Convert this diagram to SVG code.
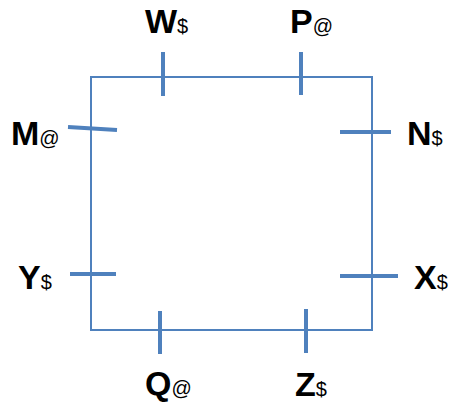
<svg xmlns="http://www.w3.org/2000/svg" width="453" height="406" viewBox="0 0 453 406">
<style>
.frame{fill:none;stroke:#4f81bd;stroke-width:2}
.tick{stroke:#4f81bd;stroke-width:4;stroke-linecap:butt}
.lbl{font-family:"Liberation Sans",Arial,sans-serif;font-weight:bold;font-size:34px;fill:#000}
.sym{font-weight:normal;font-size:20px}
</style>
<rect width="453" height="406" fill="#fff"/>
<g id="connectors">
<rect class="frame" x="91" y="77" width="281" height="253"/>
</g>
<g id="W"><line class="tick" x1="163" y1="52" x2="163" y2="96"/><text class="lbl" x="145" y="33">W<tspan class="sym">$</tspan></text></g>
<g id="P"><line class="tick" x1="301" y1="52" x2="301" y2="95"/><text class="lbl" x="290" y="33">P<tspan class="sym">@</tspan></text></g>
<g id="M"><line class="tick" x1="68" y1="127" x2="117" y2="130"/><text class="lbl" x="11" y="145">M<tspan class="sym">@</tspan></text></g>
<g id="N"><line class="tick" x1="340" y1="132" x2="391" y2="132"/><text class="lbl" x="407" y="145">N<tspan class="sym">$</tspan></text></g>
<g id="Y"><line class="tick" x1="70" y1="274" x2="116" y2="274"/><text class="lbl" x="18" y="289">Y<tspan class="sym">$</tspan></text></g>
<g id="X"><line class="tick" x1="340" y1="276" x2="398" y2="276"/><text class="lbl" x="414" y="289">X<tspan class="sym">$</tspan></text></g>
<g id="Q"><line class="tick" x1="160" y1="311" x2="160" y2="354"/><text class="lbl" x="145" y="395">Q<tspan class="sym">@</tspan></text></g>
<g id="Z"><line class="tick" x1="306" y1="309" x2="306" y2="353"/><text class="lbl" x="295" y="396">Z<tspan class="sym">$</tspan></text></g>
</svg>
